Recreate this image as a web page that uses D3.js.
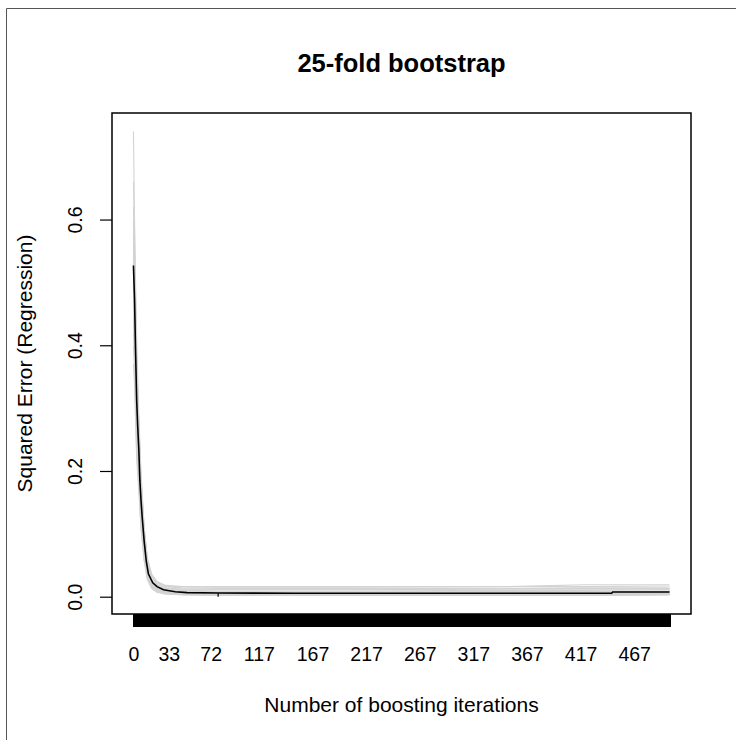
<!DOCTYPE html>
<html>
<head>
<meta charset="utf-8">
<script src="https://cdn.jsdelivr.net/npm/d3@7"></script>
<style>
  html, body { margin: 0; padding: 0; background: #fff; }
  svg { display: block; font-family: "Liberation Sans", Arial, sans-serif; }
</style>
</head>
<body>
<svg id="chart" width="736" height="740"></svg>
<script>
// ---------------- data ----------------
const chartTitle = "25-fold bootstrap";
const xTitle = "Number of boosting iterations";
const yTitle = "Squared Error (Regression)";

const mstopMax = 500;               // iterations 0..500
const mstopOpt = 79;                // optimal stopping iteration (marker)
const xTickLabels = [0, 33, 72, 117, 167, 217, 267, 317, 367, 417, 467];
const yTickValues = [0.0, 0.2, 0.4, 0.6];

// iterations at which the bootstrap risk curves were read
const iterKnots = [0, 1, 2, 3, 5, 7, 10, 13, 17, 22, 30, 45, 80, 200, 350, 420, 500];

// 25 bootstrap folds (grey)
const fold01 = [0.74, 0.60, 0.50, 0.41, 0.29, 0.20, 0.11, 0.060, 0.032, 0.020, 0.013, 0.010, 0.009, 0.009, 0.010, 0.010, 0.011];
const fold02 = [0.66, 0.58, 0.47, 0.38, 0.27, 0.18, 0.10, 0.050, 0.028, 0.017, 0.011, 0.008, 0.007, 0.007, 0.007, 0.008, 0.008];
const fold03 = [0.62, 0.55, 0.45, 0.37, 0.28, 0.19, 0.11, 0.062, 0.036, 0.024, 0.018, 0.016, 0.015, 0.015, 0.016, 0.019, 0.019];
const fold04 = [0.60, 0.53, 0.43, 0.34, 0.25, 0.16, 0.09, 0.045, 0.022, 0.012, 0.007, 0.005, 0.004, 0.004, 0.004, 0.004, 0.005];
const fold05 = [0.58, 0.52, 0.43, 0.35, 0.27, 0.18, 0.105, 0.056, 0.033, 0.022, 0.016, 0.014, 0.013, 0.013, 0.013, 0.014, 0.014];
const fold06 = [0.57, 0.51, 0.42, 0.34, 0.26, 0.17, 0.095, 0.048, 0.025, 0.014, 0.008, 0.005, 0.004, 0.003, 0.003, 0.003, 0.004];
const fold07 = [0.56, 0.50, 0.41, 0.33, 0.25, 0.165, 0.092, 0.046, 0.024, 0.014, 0.009, 0.006, 0.005, 0.005, 0.005, 0.005, 0.006];
const fold08 = [0.55, 0.49, 0.40, 0.32, 0.245, 0.16, 0.088, 0.044, 0.023, 0.013, 0.008, 0.005, 0.004, 0.004, 0.004, 0.004, 0.005];
const fold09 = [0.54, 0.49, 0.41, 0.33, 0.26, 0.18, 0.10, 0.055, 0.032, 0.022, 0.017, 0.016, 0.016, 0.016, 0.016, 0.016, 0.017];
const fold10 = [0.53, 0.48, 0.39, 0.31, 0.24, 0.155, 0.085, 0.042, 0.022, 0.013, 0.008, 0.006, 0.005, 0.005, 0.005, 0.005, 0.006];
const fold11 = [0.53, 0.47, 0.38, 0.30, 0.23, 0.15, 0.08, 0.040, 0.020, 0.011, 0.006, 0.004, 0.003, 0.003, 0.003, 0.003, 0.004];
const fold12 = [0.52, 0.47, 0.39, 0.31, 0.24, 0.16, 0.088, 0.045, 0.024, 0.015, 0.010, 0.008, 0.007, 0.007, 0.007, 0.007, 0.008];
const fold13 = [0.52, 0.46, 0.37, 0.29, 0.22, 0.14, 0.075, 0.036, 0.018, 0.010, 0.006, 0.004, 0.003, 0.002, 0.002, 0.002, 0.003];
const fold14 = [0.51, 0.46, 0.38, 0.30, 0.235, 0.155, 0.085, 0.044, 0.024, 0.015, 0.010, 0.008, 0.007, 0.007, 0.008, 0.008, 0.009];
const fold15 = [0.50, 0.45, 0.37, 0.29, 0.22, 0.145, 0.078, 0.038, 0.019, 0.011, 0.007, 0.005, 0.004, 0.004, 0.004, 0.004, 0.005];
const fold16 = [0.50, 0.45, 0.37, 0.30, 0.23, 0.155, 0.088, 0.047, 0.027, 0.018, 0.013, 0.011, 0.011, 0.011, 0.012, 0.012, 0.012];
const fold17 = [0.49, 0.44, 0.36, 0.285, 0.22, 0.14, 0.075, 0.036, 0.018, 0.010, 0.006, 0.004, 0.003, 0.003, 0.003, 0.003, 0.004];
const fold18 = [0.48, 0.43, 0.35, 0.28, 0.215, 0.14, 0.076, 0.038, 0.020, 0.012, 0.008, 0.006, 0.005, 0.005, 0.005, 0.005, 0.006];
const fold19 = [0.47, 0.42, 0.34, 0.27, 0.205, 0.13, 0.068, 0.032, 0.015, 0.008, 0.005, 0.003, 0.002, 0.002, 0.002, 0.002, 0.003];
const fold20 = [0.46, 0.42, 0.35, 0.28, 0.22, 0.15, 0.085, 0.046, 0.027, 0.018, 0.014, 0.012, 0.012, 0.012, 0.013, 0.013, 0.013];
const fold21 = [0.45, 0.40, 0.33, 0.26, 0.20, 0.13, 0.07, 0.034, 0.017, 0.010, 0.006, 0.004, 0.004, 0.004, 0.004, 0.004, 0.005];
const fold22 = [0.44, 0.40, 0.32, 0.255, 0.195, 0.125, 0.066, 0.031, 0.015, 0.008, 0.005, 0.003, 0.003, 0.003, 0.003, 0.003, 0.004];
const fold23 = [0.42, 0.38, 0.31, 0.25, 0.19, 0.125, 0.068, 0.034, 0.018, 0.011, 0.008, 0.007, 0.007, 0.007, 0.007, 0.008, 0.008];
const fold24 = [0.40, 0.36, 0.29, 0.23, 0.175, 0.11, 0.058, 0.027, 0.013, 0.007, 0.004, 0.003, 0.002, 0.002, 0.002, 0.002, 0.003];
const fold25 = [0.37, 0.34, 0.28, 0.22, 0.17, 0.11, 0.058, 0.028, 0.014, 0.008, 0.005, 0.004, 0.004, 0.004, 0.004, 0.004, 0.005];

const folds = [fold01, fold02, fold03, fold04, fold05, fold06, fold07, fold08, fold09, fold10,
               fold11, fold12, fold13, fold14, fold15, fold16, fold17, fold18, fold19, fold20,
               fold21, fold22, fold23, fold24, fold25];

// average risk (black)
const meanIter = [0, 1, 2, 3, 4, 5, 6, 7, 8, 10, 12, 14, 18, 22, 28, 39, 50, 80, 150, 250, 350, 446, 447, 500];
const meanRisk = [0.527, 0.475, 0.389, 0.313, 0.27, 0.235, 0.185, 0.155, 0.13, 0.088, 0.056, 0.036, 0.022, 0.016, 0.011, 0.008, 0.0065, 0.0058, 0.0055, 0.0055, 0.0055, 0.0055, 0.0075, 0.0075];
const riskAtOpt = 0.0058;

// ---------------- layout ----------------
const svg = d3.select("#chart");
const plot = { left: 112, right: 691, top: 113, bottom: 614 };
const fontFam = "'Liberation Sans', Arial, sans-serif";

// R-style 4% axis extension
const allVals = folds.flat().concat(meanRisk);
const yMin = d3.min(allVals), yMax = d3.max(allVals);
const yPad = (yMax - yMin) * 0.04;
const xPad = mstopMax * 0.04;

const x = d3.scaleLinear().domain([-xPad, mstopMax + xPad]).range([plot.left, plot.right]);
const y = d3.scaleLinear().domain([yMin - yPad, yMax + yPad]).range([plot.bottom, plot.top]);

// outer frame (top and left edges)
svg.append("line").attr("x1", 6.5).attr("x2", 736).attr("y1", 8.5).attr("y2", 8.5)
  .attr("stroke", "#555").attr("stroke-width", 1);
svg.append("line").attr("x1", 6.5).attr("x2", 6.5).attr("y1", 8.5).attr("y2", 740)
  .attr("stroke", "#555").attr("stroke-width", 1);

// clip
svg.append("clipPath").attr("id", "clip").append("rect")
  .attr("x", plot.left).attr("y", plot.top)
  .attr("width", plot.right - plot.left).attr("height", plot.bottom - plot.top);

const lineGen = d3.line().x(d => x(d[0])).y(d => y(d[1]));

const curves = svg.append("g").attr("clip-path", "url(#clip)");
folds.forEach(f => {
  curves.append("path")
    .attr("d", lineGen(iterKnots.map((it, i) => [it, f[i]])))
    .attr("fill", "none").attr("stroke", "#d3d3d3").attr("stroke-width", 1.1);
});
curves.append("path")
  .attr("d", lineGen(meanIter.map((it, i) => [it, meanRisk[i]])))
  .attr("fill", "none").attr("stroke", "#000").attr("stroke-width", 1.6);

// optimal mstop marker
curves.append("line")
  .attr("x1", x(mstopOpt)).attr("x2", x(mstopOpt))
  .attr("y1", y(0)).attr("y2", y(riskAtOpt))
  .attr("stroke", "#000").attr("stroke-width", 1.2);

// x axis: a tick at every iteration (forms the black band)
const xTicksAxis = d3.axisBottom(x)
  .tickValues(d3.range(0, mstopMax + 1))
  .tickSizeInner(13).tickSizeOuter(0).tickFormat("");
const gxt = svg.append("g").attr("transform", `translate(0,${plot.bottom})`).call(xTicksAxis);
gxt.select(".domain").remove();
gxt.selectAll(".tick line").attr("stroke", "#000").attr("stroke-width", 2)
  .attr("shape-rendering", "crispEdges");

// x axis labels
const xLabelAxis = d3.axisBottom(x)
  .tickValues(xTickLabels).tickSize(0).tickPadding(33).tickFormat(d3.format("d"));
const gxl = svg.append("g").attr("transform", `translate(0,${plot.bottom})`).call(xLabelAxis);
gxl.select(".domain").remove();
gxl.selectAll("text").attr("font-size", 19.5).attr("fill", "#000").style("font-family", fontFam);

// y axis
const yAxis = d3.axisLeft(y).tickValues(yTickValues).tickSizeInner(12).tickSizeOuter(0)
  .tickFormat(d3.format(".1f"));
const gy = svg.append("g").attr("transform", `translate(${plot.left},0)`).call(yAxis);
gy.select(".domain").remove();
gy.selectAll(".tick line").attr("stroke", "#000").attr("stroke-width", 1.2);
gy.selectAll(".tick text")
  .attr("x", null)
  .attr("transform", `translate(${75 - plot.left},0) rotate(-90)`)
  .attr("text-anchor", "middle").attr("dy", "0.36em")
  .attr("font-size", 19.5).attr("fill", "#000").style("font-family", fontFam);

// plot box
svg.append("rect")
  .attr("x", plot.left).attr("y", plot.top)
  .attr("width", plot.right - plot.left).attr("height", plot.bottom - plot.top)
  .attr("fill", "none").attr("stroke", "#000").attr("stroke-width", 1.5);

// titles
svg.append("text").attr("x", (plot.left + plot.right) / 2).attr("y", 72)
  .attr("text-anchor", "middle").attr("font-size", 25.5).attr("font-weight", "bold")
  .text(chartTitle);
svg.append("text").attr("x", (plot.left + plot.right) / 2).attr("y", 712)
  .attr("text-anchor", "middle").attr("font-size", 21)
  .text(xTitle);
svg.append("text")
  .attr("transform", `translate(32,${(plot.top + plot.bottom) / 2}) rotate(-90)`)
  .attr("text-anchor", "middle").attr("font-size", 21)
  .text(yTitle);
</script>
</body>
</html>
